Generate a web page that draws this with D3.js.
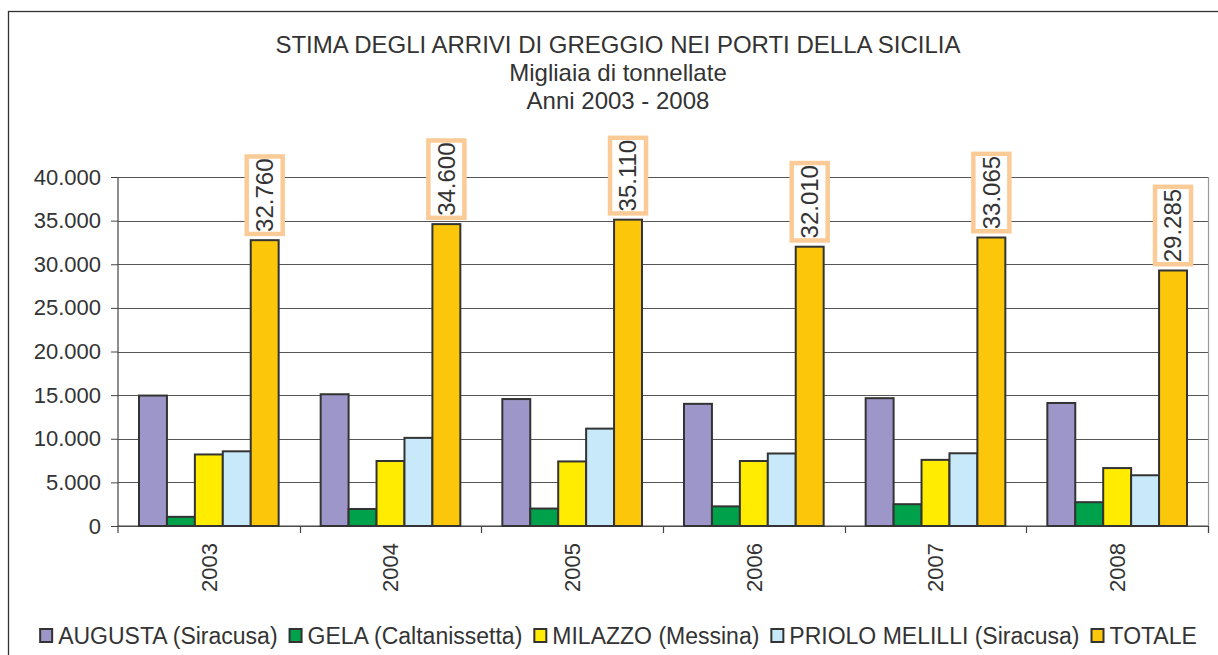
<!DOCTYPE html>
<html><head><meta charset="utf-8">
<script src="https://cdn.jsdelivr.net/npm/d3@7"></script>
<style>
html,body{margin:0;padding:0;background:#fff;}
svg{display:block;font-family:"Liberation Sans",Arial,sans-serif;}
</style></head>
<body>
<svg id="c" width="1218" height="655"></svg>
<script>
const years = ["2003","2004","2005","2006","2007","2008"];
const seriesNames = ["AUGUSTA (Siracusa)","GELA (Caltanissetta)","MILAZZO (Messina)","PRIOLO MELILLI (Siracusa)","TOTALE"];
const augusta = [14950, 15100, 14550, 14000, 14650, 14100];
const gela    = [1050, 1950, 2000, 2250, 2500, 2730];
const milazzo = [8200, 7450, 7400, 7450, 7580, 6640];
const priolo  = [8560, 10100, 11160, 8310, 8335, 5815];
const totale  = [32760, 34600, 35110, 32010, 33065, 29285];
const yTicks = [0, 5000, 10000, 15000, 20000, 25000, 30000, 35000, 40000];
const colors = ["#9d97c9", "#00a14b", "#ffec00", "#c7e9f9", "#fcc70a"];
const titleLines = ["STIMA DEGLI ARRIVI DI GREGGIO NEI PORTI DELLA SICILIA", "Migliaia di tonnellate", "Anni 2003 - 2008"];

const seriesValues = [augusta, gela, milazzo, priolo, totale];
const svg = d3.select("#c");
const txt = "#333";
const it = d3.formatLocale({decimal:",", thousands:".", grouping:[3], currency:["€",""]});
const fmt = it.format(",d");

const L = 118, R = 1208, T = 177, B = 526;

// outer frame
svg.append("rect").attr("x",8.5).attr("y",11.5).attr("width",1240).attr("height",700)
  .attr("fill","none").attr("stroke","#333").attr("stroke-width",1.3);

// title
svg.selectAll("text.title").data(titleLines).join("text")
  .attr("class","title")
  .attr("x",618).attr("y",(d,i)=>53+i*28)
  .attr("text-anchor","middle").attr("font-size",24).attr("fill",txt)
  .text(d=>d);

const x0 = d3.scaleBand().domain(years).range([L,R]).padding(0);
const bw = x0.bandwidth();
const x1 = d3.scaleBand().domain(seriesNames).range([bw*0.1156, bw*(1-0.1156)]).padding(0);
const y = d3.scaleLinear().domain([0,40000]).range([B,T]);

// gridlines
svg.append("g").selectAll("line").data(yTicks).join("line")
  .attr("x1",L).attr("x2",R).attr("y1",d=>Math.round(y(d))+0.5).attr("y2",d=>Math.round(y(d))+0.5)
  .attr("stroke","#555").attr("stroke-width",1);
// right plot border
svg.append("line").attr("x1",R+0.5).attr("x2",R+0.5).attr("y1",T).attr("y2",B+7)
  .attr("stroke","#999").attr("stroke-width",1.2);

// y axis
const yAxis = d3.axisLeft(y).tickValues(yTicks).tickFormat(fmt).tickSize(7).tickPadding(10);
const gy = svg.append("g").attr("transform",`translate(${L},0)`).call(yAxis);
gy.select(".domain").attr("stroke","#444").attr("stroke-width",1.2).attr("d",`M0,${T}V${B+7}`);
gy.selectAll(".tick line").attr("stroke","#444");
gy.selectAll(".tick text").attr("font-size",22).attr("fill",txt)
  .attr("font-family","'Liberation Sans',Arial,sans-serif");

// x axis
const xAxis = d3.axisBottom(x0).tickSize(0).tickFormat(d=>d);
const gx = svg.append("g").attr("transform",`translate(0,${B})`).call(xAxis);
gx.select(".domain").attr("stroke","#444").attr("stroke-width",1.2).attr("d",`M${L},0H${R}`);
gx.selectAll(".tick text").attr("font-size",22).attr("fill",txt)
  .attr("font-family","'Liberation Sans',Arial,sans-serif")
  .attr("transform","rotate(-90)").attr("text-anchor","end")
  .attr("x",-17).attr("y",0).attr("dy","0.35em");
// category boundary ticks
svg.append("g").selectAll("line").data(years.slice(1).concat(["end"])).join("line")
  .attr("x1",(d,i)=>Math.round(L+bw*(i+1))+0.5).attr("x2",(d,i)=>Math.round(L+bw*(i+1))+0.5)
  .attr("y1",B).attr("y2",B+7).attr("stroke","#444").attr("stroke-width",1.2);

// bars
const data = [];
years.forEach((yr,i)=>seriesNames.forEach((s,j)=>data.push({yr, s, j, v: seriesValues[j][i]})));
svg.append("g").selectAll("rect").data(data).join("rect")
  .attr("x",d=>x0(d.yr)+x1(d.s))
  .attr("y",d=>y(d.v))
  .attr("width",x1.bandwidth())
  .attr("height",d=>B-y(d.v))
  .attr("fill",d=>colors[d.j])
  .attr("stroke","#333").attr("stroke-width",2);

// total labels
const lab = svg.append("g");
years.forEach((yr,i)=>{
  const cx = x0(yr)+x1("TOTALE")+x1.bandwidth()/2;
  const bottom = y(totale[i]) - 4;
  const g = lab.append("g");
  const t = g.append("text").attr("font-size",24).attr("fill",txt)
    .attr("transform",`translate(${cx},${bottom-40}) rotate(-90)`)
    .attr("text-anchor","middle").attr("dy","0.35em")
    .text(fmt(totale[i]));
  const len = t.node().getComputedTextLength();
  const h = len + 4, w = 36;
  g.insert("rect","text").attr("x",cx-w/2).attr("y",bottom-2.25-h).attr("width",w).attr("height",h)
    .attr("fill","#fff").attr("stroke","#fbcb97").attr("stroke-width",4.5);
  t.attr("transform",`translate(${cx},${bottom-2.25-h/2}) rotate(-90)`);
});

// legend
const lg = svg.append("g");
let cur = 0;
seriesNames.forEach((s,j)=>{
  const g = lg.append("g");
  g.append("rect").attr("x",cur+1).attr("y",-6.5).attr("width",12).attr("height",13)
    .attr("fill",colors[j]).attr("stroke","#333").attr("stroke-width",2);
  const t = g.append("text").attr("x",cur+19).attr("y",0).attr("dy","0.35em")
    .attr("font-size",23).attr("fill",txt).text(s);
  cur += 19 + t.node().getComputedTextLength() + 11;
});
const total = cur - 11;
lg.attr("transform",`translate(${618-total/2},635.5)`);
</script>
</body></html>
